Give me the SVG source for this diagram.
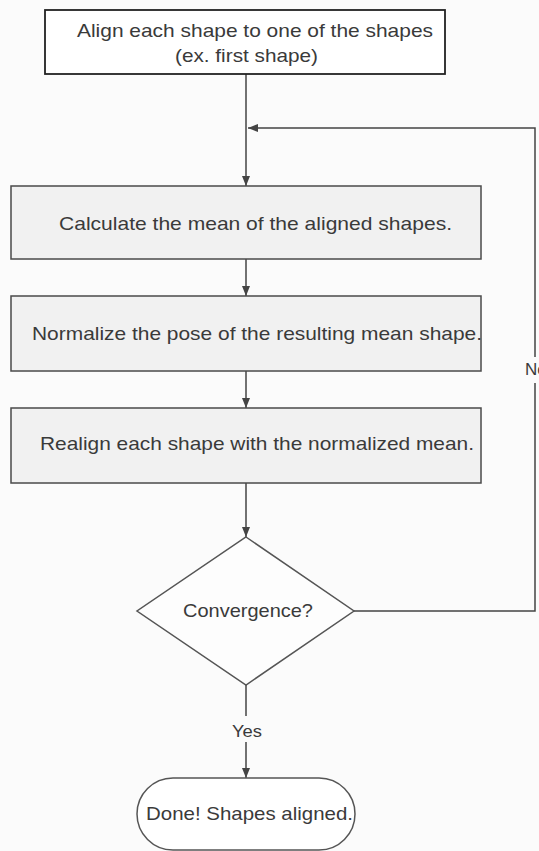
<svg xmlns="http://www.w3.org/2000/svg" width="539" height="851" viewBox="0 0 539 851">
<style>
.t{font-family:"Liberation Sans",Arial,sans-serif;font-size:19px;fill:#3a3a3a}
.l{font-family:"Liberation Sans",Arial,sans-serif;font-size:17px;fill:#3a3a3a}
.box{fill:#f1f1f1;stroke:#4a4a4a;stroke-width:1.5}
.c{fill:none;stroke:#444;stroke-width:1.5}
</style>
<defs>
<marker id="ah" viewBox="0 0 10 10" refX="10" refY="5" markerWidth="10" markerHeight="10" markerUnits="userSpaceOnUse" orient="auto">
<path d="M0,1 L10,5 L0,9 Z" fill="#444"/>
</marker>
</defs>
<rect width="539" height="851" fill="#fbfbfb"/>
<g id="connectors">
<line class="c" x1="246" y1="74" x2="246" y2="186" marker-end="url(#ah)"/>
<line class="c" x1="246" y1="259" x2="246" y2="296" marker-end="url(#ah)"/>
<line class="c" x1="246" y1="371" x2="246" y2="408" marker-end="url(#ah)"/>
<line class="c" x1="246" y1="483" x2="246" y2="537" marker-end="url(#ah)"/>
<polyline class="c" points="354,611 535,611 535,383"/>
<polyline class="c" points="535,357 535,128 248,128" marker-end="url(#ah)"/>
<text class="l" x="525" y="375">No</text>
<line class="c" x1="246" y1="685" x2="246" y2="716"/>
<line class="c" x1="246" y1="742" x2="246" y2="778" marker-end="url(#ah)"/>
<text class="l" x="232" y="737" textLength="30" lengthAdjust="spacingAndGlyphs">Yes</text>
</g>
<g id="start">
<rect x="45" y="10" width="400" height="64" fill="#ffffff" stroke="#222" stroke-width="1.8"/>
<text class="t" x="77" y="37" textLength="356" lengthAdjust="spacingAndGlyphs">Align each shape to one of the shapes</text>
<text class="t" x="175" y="62" textLength="143" lengthAdjust="spacingAndGlyphs">(ex. first shape)</text>
</g>
<g id="mean">
<rect class="box" x="11" y="186" width="470" height="73"/>
<text class="t" x="59" y="230" textLength="393" lengthAdjust="spacingAndGlyphs">Calculate the mean of the aligned shapes.</text>
</g>
<g id="normalize">
<rect class="box" x="11" y="296" width="470" height="75"/>
<text class="t" x="32" y="340" textLength="450" lengthAdjust="spacingAndGlyphs">Normalize the pose of the resulting mean shape.</text>
</g>
<g id="realign">
<rect class="box" x="11" y="408" width="470" height="75"/>
<text class="t" x="40" y="450" textLength="434" lengthAdjust="spacingAndGlyphs">Realign each shape with the normalized mean.</text>
</g>
<g id="convergence">
<polygon points="246,537 354,611 246,685 137,611" fill="#fdfdfd" stroke="#555" stroke-width="1.5"/>
<text class="t" x="183" y="617" textLength="130" lengthAdjust="spacingAndGlyphs">Convergence?</text>
</g>
<g id="done">
<rect x="137" y="778" width="218" height="72" rx="36" ry="36" fill="#ffffff" stroke="#555" stroke-width="1.5"/>
<text class="t" x="146" y="820" textLength="207" lengthAdjust="spacingAndGlyphs">Done! Shapes aligned.</text>
</g>
</svg>
